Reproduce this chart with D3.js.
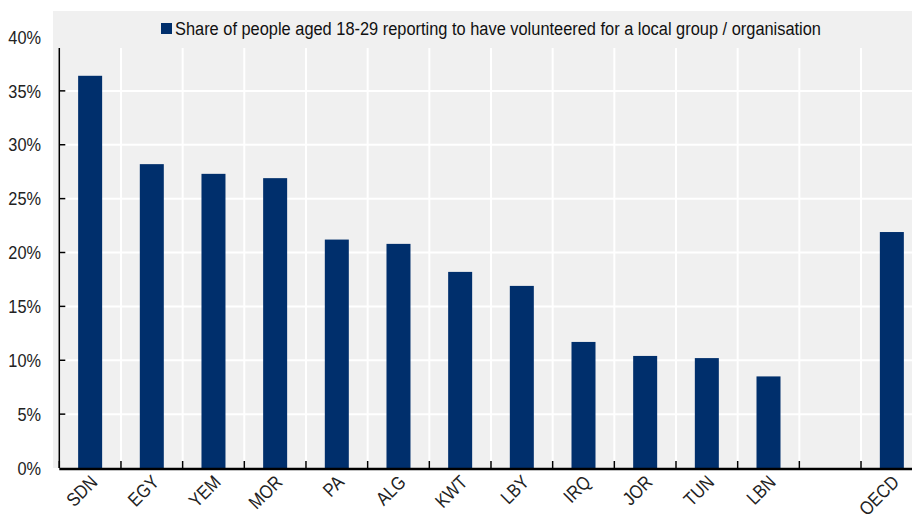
<!DOCTYPE html>
<html>
<head>
<meta charset="utf-8">
<script src="https://cdn.jsdelivr.net/npm/d3@7"></script>
<style>
  body { margin: 0; background: #fff; }
  svg { display: block; font-family: "Liberation Sans Narrow", "Arial Narrow", "Liberation Sans", Arial, sans-serif; }
</style>
</head>
<body>
<script>
// data
const countries = ["SDN", "EGY", "YEM", "MOR", "PA", "ALG", "KWT", "LBY", "IRQ", "JOR", "TUN", "LBN", "", "OECD"];
const values = [36.4, 28.2, 27.3, 26.9, 21.2, 20.8, 18.2, 16.9, 11.7, 10.4, 10.2, 8.5, null, 21.9];
const yTicks = [0, 5, 10, 15, 20, 25, 30, 35, 40];
const seriesName = "Share of people aged 18-29 reporting to have volunteered for a local group / organisation";
// data

const W = 912, H = 515;
const plotLeft = 59.3, bandW = 61.67;
const plotTop = 37, plotBottom = 468;
const barColor = "#002f6c";
const bg = "#f0f0f0";
const squeeze = 0.86; // narrow look of the original font

const data = countries.map((c, i) => ({ key: "k" + i, label: c, value: values[i] }));

const svg = d3.select("body").append("svg")
  .attr("width", W)
  .attr("height", H);

// background panel
svg.append("rect")
  .attr("x", 53).attr("y", 11)
  .attr("width", W - 53).attr("height", plotBottom - 11)
  .attr("fill", bg);

const x = d3.scaleBand()
  .domain(data.map(d => d.key))
  .range([plotLeft, plotLeft + bandW * data.length])
  .padding(0);

const y = d3.scaleLinear()
  .domain([0, 40])
  .range([plotBottom, plotTop]);

// horizontal gridlines
svg.append("g")
  .selectAll("line")
  .data(yTicks.filter(t => t > 0 && t < 40))
  .join("line")
    .attr("x1", plotLeft).attr("x2", W)
    .attr("y1", d => y(d)).attr("y2", d => y(d))
    .attr("stroke", "#fff")
    .attr("stroke-width", 2);

// vertical gridlines at band edges
svg.append("g")
  .selectAll("line")
  .data(data.slice(1))
  .join("line")
    .attr("x1", d => x(d.key)).attr("x2", d => x(d.key))
    .attr("y1", 48).attr("y2", plotBottom)
    .attr("stroke", "#fff")
    .attr("stroke-width", 2);

// bars
const barW = 24;
svg.append("g")
  .selectAll("rect")
  .data(data.filter(d => d.value != null))
  .join("rect")
    .attr("x", d => x(d.key) + x.bandwidth() / 2 - barW / 2)
    .attr("width", barW)
    .attr("y", d => y(d.value))
    .attr("height", d => plotBottom - y(d.value))
    .attr("fill", barColor);

// legend panel covers top of the plot
svg.append("rect")
  .attr("x", 53).attr("y", 11)
  .attr("width", W - 53).attr("height", 37)
  .attr("fill", bg);

// y axis ticks (pointing inward)
svg.append("g")
  .selectAll("line")
  .data(yTicks.filter(t => t > 0 && t < 40))
  .join("line")
    .attr("x1", plotLeft).attr("x2", plotLeft + 6)
    .attr("y1", d => y(d)).attr("y2", d => y(d))
    .attr("stroke", "#000").attr("stroke-width", 1.5);
svg.append("line")
  .attr("x1", plotLeft).attr("x2", plotLeft)
  .attr("y1", 48).attr("y2", plotBottom)
  .attr("stroke", "#000").attr("stroke-width", 1.5);

// y tick labels
svg.append("g")
  .selectAll("text")
  .data(yTicks)
  .join("text")
    .attr("transform", d => `translate(41,${y(d)}) scale(${squeeze},1)`)
    .attr("dy", "0.35em")
    .attr("text-anchor", "end")
    .attr("font-size", 19)
    .attr("fill", "#222")
    .text(d => d + "%");

// x axis
const xAxis = svg.append("g")
  .attr("transform", `translate(0,${plotBottom})`);
xAxis.selectAll("line.tick")
  .data(data)
  .join("line")
    .attr("class", "tick")
    .attr("x1", d => x(d.key)).attr("x2", d => x(d.key))
    .attr("y1", 0).attr("y2", -7)
    .attr("stroke", "#000").attr("stroke-width", 1.5);
xAxis.append("line")
  .attr("x1", plotLeft).attr("x2", W)
  .attr("y1", 1).attr("y2", 1)
  .attr("stroke", "#000").attr("stroke-width", 2.5);

xAxis.selectAll("text")
  .data(data)
  .join("text")
    .attr("transform", d => `translate(${x(d.key) + x.bandwidth() / 2 - 1},${6}) rotate(-45) scale(${squeeze},1)`)
    .attr("text-anchor", "end")
    .attr("dy", "0.7em")
    .attr("font-size", 19)
    .attr("fill", "#222")
    .text(d => d.label);

// legend
svg.append("rect")
  .attr("x", 161).attr("y", 23)
  .attr("width", 11).attr("height", 11)
  .attr("fill", barColor);
svg.append("text")
  .attr("x", 175).attr("y", 29)
  .attr("dy", "0.36em")
  .attr("font-size", 18)
  .attr("textLength", 646)
  .attr("lengthAdjust", "spacingAndGlyphs")
  .attr("fill", "#111")
  .text(seriesName);
</script>
</body>
</html>
